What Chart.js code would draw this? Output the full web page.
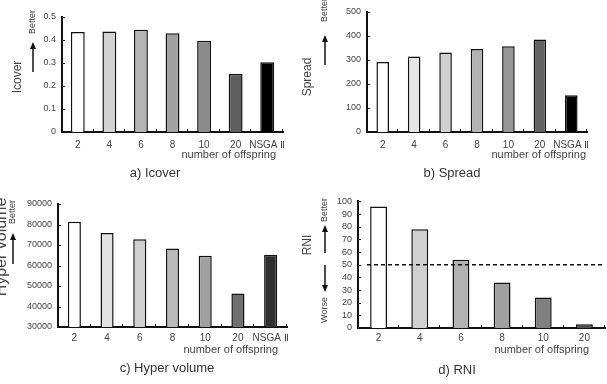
<!DOCTYPE html>
<html>
<head>
<meta charset="utf-8">
<script src="https://cdn.jsdelivr.net/npm/chart.js@4.4.1/dist/chart.umd.min.js"></script>
<style>
  html, body { margin: 0; padding: 0; background: #fff; }
  #wrap { position: relative; width: 607px; height: 384px; overflow: hidden; }
  .panel { position: absolute; }
</style>
</head>
<body>
<div id="wrap">
  <div class="panel" style="left:0;top:0;width:300px;height:190px"><canvas id="c-icover"></canvas></div>
  <div class="panel" style="left:300px;top:0;width:307px;height:190px"><canvas id="c-spread"></canvas></div>
  <div class="panel" style="left:0;top:190px;width:300px;height:194px"><canvas id="c-hv"></canvas></div>
  <div class="panel" style="left:300px;top:190px;width:307px;height:194px"><canvas id="c-rni"></canvas></div>
</div>
<script>
'use strict';

// data
const offspring = ['2', '4', '6', '8', '10', '20', 'NSGA Ⅱ'];
const offspringRni = ['2', '4', '6', '8', '10', '20'];
const icover = [0.435, 0.437, 0.445, 0.429, 0.397, 0.252, 0.303];
const spread = [292, 315, 331, 346, 357, 385, 153];
const hyperVolume = [81300, 75800, 72800, 68300, 64700, 46300, 65300];
const rni = [96, 78, 54, 36, 24, 3];
const rniLevel = 50;   // dashed reference line

const FONT = "'Liberation Sans', Arial, sans-serif";
const INK = '#111';
const TXT = '#444';

// grey ramps of the bars
const greysA = ['#ffffff', '#d2d2d2', '#b4b4b4', '#a2a2a2', '#8a8a8a', '#5e5e5e', '#000000'];
const greysB = ['#ffffff', '#e6e6e6', '#d0d0d0', '#b4b4b4', '#969696', '#626262', '#000000'];
const greysC = ['#ffffff', '#e2e2e2', '#d0d0d0', '#bababa', '#a0a0a0', '#707070', '#303030'];
const greysD = ['#ffffff', '#d0d0d0', '#b2b2b2', '#a0a0a0', '#808080', '#505050'];

function vtext(ctx, text, x, y, size) {
  ctx.save();
  ctx.translate(x, y);
  ctx.rotate(-Math.PI / 2);
  ctx.font = size + 'px ' + FONT;
  ctx.fillStyle = TXT;
  ctx.textAlign = 'center';
  ctx.textBaseline = 'middle';
  ctx.fillText(text, 0, 0);
  ctx.restore();
}

function arrow(ctx, x, from, to) {
  const dir = to < from ? -1 : 1;
  ctx.save();
  ctx.strokeStyle = INK;
  ctx.fillStyle = INK;
  ctx.lineWidth = 1.5;
  ctx.beginPath();
  ctx.moveTo(x, from);
  ctx.lineTo(x, to - dir * 6);
  ctx.stroke();
  ctx.beginPath();
  ctx.moveTo(x, to);
  ctx.lineTo(x - 3, to - dir * 7);
  ctx.lineTo(x + 3, to - dir * 7);
  ctx.closePath();
  ctx.fill();
  ctx.restore();
}

// axis decorations and annotations
const decor = {
  id: 'decor',
  afterDraw(chart, args, o) {
    const ctx = chart.ctx;
    const a = chart.chartArea;
    const x = chart.scales.x, y = chart.scales.y;
    ctx.save();
    ctx.strokeStyle = INK;
    ctx.lineWidth = 1;
    // y ticks pointing inward
    y.ticks.forEach(t => {
      const py = Math.round(y.getPixelForValue(t.value)) + 0.5;
      ctx.beginPath(); ctx.moveTo(a.left, py); ctx.lineTo(a.left + 3, py); ctx.stroke();
    });
    // x ticks between categories
    const n = x.ticks.length;
    for (let i = 1; i <= n; i++) {
      const px = Math.round(a.left + i * (a.right - a.left) / n) - 0.5;
      ctx.beginPath(); ctx.moveTo(px, a.bottom); ctx.lineTo(px, a.bottom - 3); ctx.stroke();
    }
    if (o.level !== undefined) {
      const py = y.getPixelForValue(o.level);
      ctx.setLineDash([4, 3]);
      ctx.lineWidth = 1.5;
      ctx.beginPath(); ctx.moveTo(a.left + 9, py); ctx.lineTo(a.right, py); ctx.stroke();
      ctx.setLineDash([]);
    }
    ctx.restore();

    ctx.save();
    ctx.fillStyle = TXT;
    ctx.font = '11px ' + FONT;
    ctx.textAlign = 'right';
    ctx.textBaseline = 'middle';
    ctx.fillText('number of offspring', o.xTitleRight, a.bottom + o.xTitleDy);
    ctx.fillStyle = '#333';
    ctx.font = '13px ' + FONT;
    ctx.textAlign = 'center';
    ctx.fillText(o.title, o.titleX, o.titleY);
    ctx.restore();

    vtext(ctx, o.yTitle, o.yTitleX, o.yTitleY, o.yTitleSize);
    vtext(ctx, 'Better', o.betterX, o.betterY, 9);
    arrow(ctx, o.betterX, o.upFrom, o.upTo);
    if (o.worseY !== undefined) {
      vtext(ctx, 'Worse', o.betterX, o.worseY, 9);
      arrow(ctx, o.betterX, o.downFrom, o.downTo);
    }
  }
};

function drawPanel(id, labels, values, colors, axis, area, note) {
  const el = document.getElementById(id);
  const H = el.parentNode.clientHeight, W = el.parentNode.clientWidth;
  new Chart(el, {
    type: 'bar',
    data: {
      labels: labels,
      datasets: [{
        data: values,
        backgroundColor: colors,
        borderColor: INK,
        borderWidth: 1.5,
        barPercentage: area.bar,
        categoryPercentage: 1
      }]
    },
    options: {
      responsive: true,
      maintainAspectRatio: false,
      animation: false,
      layout: { padding: { left: 0, top: area.top, right: W - area.right, bottom: 0 } },
      plugins: {
        legend: { display: false },
        tooltip: { enabled: false },
        title: { display: false },
        decor: note
      },
      scales: {
        x: {
          grid: { display: false, drawTicks: false },
          border: { color: INK, width: 2 },
          ticks: { color: TXT, font: { family: FONT, size: 10 }, padding: note.tickPad, maxRotation: 0, autoSkip: false },
          afterFit: s => { s.height = H - area.bottom; }
        },
        y: {
          min: axis.min, max: axis.max,
          grid: { display: false, drawTicks: false },
          border: { color: INK, width: 2 },
          ticks: {
            stepSize: axis.step, color: TXT, padding: 6, autoSkip: false,
            font: { family: FONT, size: 9 },
            callback: v => String(+v.toFixed(2))
          },
          afterFit: s => { s.width = area.left; }
        }
      }
    },
    plugins: [decor]
  });
}

drawPanel('c-icover', offspring, icover, greysA,
  { min: 0, max: 0.5, step: 0.1 },
  { left: 62, right: 283, top: 17, bottom: 132, bar: 0.44 },
  { tickPad: 7, xTitleRight: 276, xTitleDy: 23, title: 'a) Icover', titleX: 155, titleY: 173,
    yTitle: 'Icover', yTitleX: 18, yTitleY: 77, yTitleSize: 12,
    betterX: 33, betterY: 22, upFrom: 72, upTo: 42 });

drawPanel('c-spread', offspring, spread, greysB,
  { min: 0, max: 500, step: 100 },
  { left: 67, right: 287, top: 12, bottom: 132, bar: 0.4 },
  { tickPad: 7, xTitleRight: 286, xTitleDy: 23, title: 'b) Spread', titleX: 152, titleY: 173,
    yTitle: 'Spread', yTitleX: 8, yTitleY: 77, yTitleSize: 12,
    betterX: 25, betterY: 10, upFrom: 65, upTo: 35 });

drawPanel('c-hv', offspring, hyperVolume, greysC,
  { min: 30000, max: 90000, step: 10000 },
  { left: 58, right: 287, top: 14, bottom: 137, bar: 0.4 },
  { tickPad: 5, xTitleRight: 278, xTitleDy: 23, title: 'c) Hyper volume', titleX: 167, titleY: 178,
    yTitle: 'Hyper volume', yTitleX: 2, yTitleY: 57, yTitleSize: 16,
    betterX: 13, betterY: 22, upFrom: 74, upTo: 43 });

drawPanel('c-rni', offspringRni, rni, greysD,
  { min: 0, max: 100, step: 10 },
  { left: 58, right: 305, top: 5, bottom: 138, bar: 0.41 },
  { tickPad: 4, xTitleRight: 289, xTitleDy: 22, title: 'd) RNI', titleX: 157, titleY: 180,
    yTitle: 'RNI', yTitleX: 8, yTitleY: 55, yTitleSize: 12,
    betterX: 25, betterY: 20, upFrom: 63, upTo: 35,
    worseY: 120, downFrom: 75, downTo: 102, level: rniLevel });
</script>
</body>
</html>
